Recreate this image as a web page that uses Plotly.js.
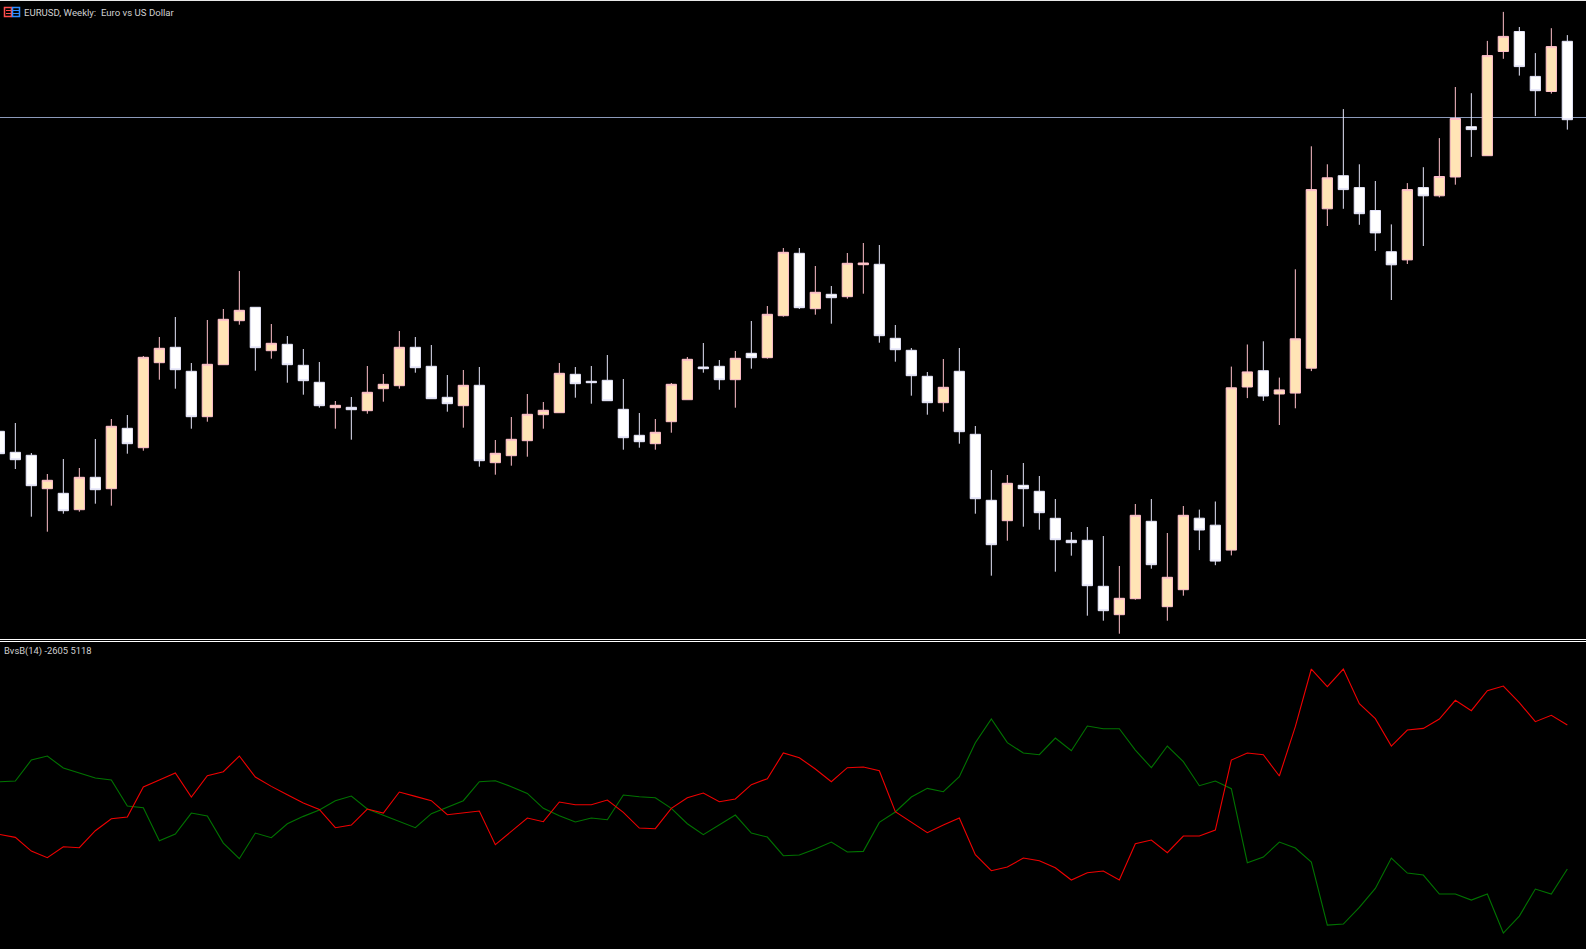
<!DOCTYPE html>
<html><head><meta charset="utf-8">
<script src="https://cdn.plot.ly/plotly-3.0.1.min.js"></script>
<style>html,body{margin:0;padding:0;background:#000;overflow:hidden}#c{width:1586px;height:949px}</style>
</head><body><div id="c"></div>
<script>
const chartTitle = "EURUSD, Weekly:\u00a0\u00a0Euro vs US Dollar";
const indicatorLabel = "BvsB(14) -2605 5118";
const levelLine = 522.5;
const direction = "DDDUDUDUDUUDDUUUDUDDDUDUUU" + "DDDUDUUUUUDDDDDUUUDDUDUU" + "DUDUUDDDDUDDDUDDDDDDUUDUU" + "DDUUDUUUUDDDDUDUUDUUDDUD";
const high = [215,217,187,166,181,172,201,221,225,284,303,323,277,320,331,369,332.7,316,304,291,278,239,243,274,266,309,
303,295,265,270,273,200,223,246,238,277,273,274,285,261,227,221,257,283,297,280,289,319,334,392,
392,374,354,387,397,395,315,292,268,281,292,214,170,165,177,164,141,108,113,104,74,136,141,107,134,
130.4,138.5,273.4,295.5,298.7,262.4,370.7,493.7,475.7,530.9,475.7,459.0,415.6,456.9,472.8,501.9,553.0,546.8,599.1,628.1,613.0,586.9,611.8,604.9];
const low = [180,171,123.3,108.3,126.3,128.3,136.3,134.3,186.3,189.3,260.3,251.3,211.3,218.3,275.3,315.3,269.3,281.3,257.3,245.3,232.3,211.3,200.3,226.3,238.3,251.3,
267.3,241.3,228.3,212.3,173.3,165.3,174.3,183.3,211.3,227.3,242.3,236.3,239.3,190.3,192.3,190.3,207.3,240.3,267.3,250.3,232.3,271.3,281.3,323.3,
331,325.3,316.3,341.3,346.3,297.3,278.3,244.3,225.3,228.3,196.3,126.3,64.3,99.3,113.3,110.3,68.3,84.3,24.3,19.3,6.3,40.3,71.3,19.3,44.3,
89.9,74.8,84.6,241.9,239.1,215.0,231.7,268.9,414.0,431.2,415.2,389.1,340.0,376.0,394.0,442.6,455.3,483.1,484.3,581.2,564.4,523.9,546.4,510.4];
const bodyTop = [208.7,187.7,184.7,159.7,146.7,162.7,162.7,213.7,211.7,282.7,291.7,292.7,268.7,275.7,320.7,329.7,332.7,296.7,295.7,274.7,257.7,234.7,232.7,247.7,255.7,292.7,
292.7,273.7,242.7,254.7,254.7,186.7,200.7,225.7,229.7,266.7,265.7,258.7,259.7,230.7,204.7,207.7,255.7,280.7,273,273.7,281.7,286.7,325.7,387.7,
386.7,347.7,345.7,376.7,377,375.7,301.7,289.7,263.7,252.7,268.7,205.7,139.7,156.7,154.7,148.7,121.7,99.7,99.7,53.7,41.7,124.7,118.7,62.7,124.7,
121.8,114.8,252.2,268.1,269.3,250.1,301.2,450.4,462.2,464.3,452.4,429.5,388.3,450.4,452.4,463.5,521.5,513.3,584.4,603.6,608.5,563.6,593.4,598.7];
const bodyBottom = [186.3,180.3,154.3,151.3,129.3,130.3,150.3,151.3,196.3,192.3,277.3,270.3,223.3,223.3,275.3,319.3,292.3,289.3,275.3,259.3,234.3,232.3,230.3,229.3,251.3,254.3,
272.3,241.3,236.3,234.3,179.3,177.3,184.3,199.3,225.3,227.3,256.3,257.3,239.3,202.3,198.3,196.3,218.3,240.3,271.3,260.3,260.3,282.3,282.3,324.3,
332.3,331.3,342.3,343.3,375.3,304.3,290.3,264.3,237.3,237.3,208.3,141.3,95.3,119.3,151.3,127.3,100.3,97.3,54.3,29.3,25.3,41.3,75.3,33.3,50.3,
110.0,78.9,89.9,253.0,244.0,246.0,246.9,271.8,431.2,450.4,426.3,407.1,375.2,380.1,444.2,444.2,463.0,510.4,484.3,588.5,573.4,549.3,548.5,520.3];
const greenLine = [2074,2110,3236,3450,2807,2539,2271,2163,770,680,-1089,-732,394,233,-1214,-2054,-678,-928,-178,216,555,1056,1306,609,287,-53,-392,359,698,1056,2074,2128,1806,1449,
645,252,-87,127,38,1360,1271,1217,645,-177,-766,-248,288,-677,-892,-1892,-1857,-1535,-1160,-1696,-1660,-105,449,1253,1717,1539,2343,4166,5434,4166,3612,3522,4416,
3736,5059,4916,4916,3772,2825,3986,3147,1860,2110,1699,-2268,-1964,-1160,-1482,-2232,-5610,-5556,-4663,-3644,-2018,-2822,-2929,-3948,-3948,-4270,-3948,-6039,-5127,-3680,-3948,-2605];
const redLine = [-749,-910,-1643,-2000,-1411,-1464,-553,91,180,1788,2163,2539,1252,2396,2610,3450,2324,1824,1377,931,591,-392,-249,609,394,1520,1288,1056,305,394,501,-1303,-589,126,
-70,985,842,842,1092,431,-409,-445,645,1217,1467,1003,1146,1914,2236,3612,3361,2754,2075,2825,2861,2665,467,-105,-659,-248,127,-1839,-2696,-2500,-2017,-2160,-2536,
-3197,-2804,-2715,-3197,-1249,-1053,-1732,-838,-838,-517,3236,3611,3522,2378,5023,8114,7167,8114,6256,5452,3986,4844,4933,5434,6435,5881,6953,7203,6310,5291,5631,5118];

const W = 1586, H = 949;
const bars = high.map((_, i) => i);
const up = [...direction].map(d => d === "U");
const open = up.map((u, i) => u ? bodyBottom[i] : bodyTop[i]);
const close = up.map((u, i) => u ? bodyTop[i] : bodyBottom[i]);
const px = v => v / W, py = v => 1 - v / H;
const rule = (y, color) => ({type:"line", xref:"paper", yref:"paper", x0:0, x1:1, y0:py(y), y1:py(y), line:{color, width:1}, layer:"above"});
const box = (x0, x1, y0, y1, color) => ({type:"rect", xref:"paper", yref:"paper", x0:px(x0), x1:px(x1), y0:py(y0), y1:py(y1), line:{color, width:1.5}, fillcolor:"rgba(0,0,0,0)"});
const dash = (x0, x1, y, color) => ({type:"line", xref:"paper", yref:"paper", x0:px(x0), x1:px(x1), y0:py(y), y1:py(y), line:{color, width:1}});

const traces = [
  {type:"candlestick", x:bars, open, high, low, close, xaxis:"x", yaxis:"y", whiskerwidth:0,
   increasing:{line:{color:"#FFC0CB", width:1}, fillcolor:"#FFE4B5"},
   decreasing:{line:{color:"#E6E6FA", width:1}, fillcolor:"#FFFFFF"},
   hoverinfo:"skip", showlegend:false},
  {type:"scatter", mode:"lines", x:bars, y:greenLine, xaxis:"x", yaxis:"y2", line:{color:"#007400", width:1.1, shape:"linear"}, hoverinfo:"skip", showlegend:false},
  {type:"scatter", mode:"lines", x:bars, y:redLine, xaxis:"x", yaxis:"y2", line:{color:"#F00000", width:1.1, shape:"linear"}, hoverinfo:"skip", showlegend:false}
];
const hidden = {showgrid:false, zeroline:false, showticklabels:false, ticks:"", showline:false, fixedrange:true};
const layout = {
  width:W, height:H, margin:{l:0, r:0, t:0, b:0}, paper_bgcolor:"#000", plot_bgcolor:"#000",
  showlegend:false, boxgap:0.36, boxgroupgap:0,
  xaxis:{...hidden, range:[(0+0.67)/16, (W+0.67)/16], rangeslider:{visible:false}, anchor:"y"},
  yaxis:{...hidden, domain:[(H-640)/H, 1], range:[0, 640], anchor:"x"},
  yaxis2:{...hidden, domain:[0, (H-642)/H], range:[(820.4-949)*53.6, (820.4-642)*53.6], anchor:"x"},
  shapes:[
    {type:"line", xref:"paper", yref:"y", x0:0, x1:1, y0:levelLine, y1:levelLine, line:{color:"#8C9ABA", width:1}, layer:"below"},
    rule(0.5, "#E8E8E8"), rule(639.5, "#FFFFFF"), rule(641.5, "#FFFFFF"),
    box(4.5, 11.5, 7.5, 16.5, "#FF4D4D"), box(12.5, 19.5, 7.5, 16.5, "#2E8BFF"),
    dash(6, 11, 10.5, "#FF4D4D"), dash(6, 11, 13.5, "#FF4D4D"), dash(13, 19, 10.5, "#2E8BFF"), dash(13, 19, 13.5, "#2E8BFF")
  ],
  annotations:[
    {xref:"paper", yref:"paper", x:px(24), y:py(12.2), xanchor:"left", yanchor:"middle", showarrow:false, text:chartTitle, font:{family:"Roboto", size:9.6, color:"#D0D0D0"}, borderpad:0, borderwidth:0},
    {xref:"paper", yref:"paper", x:px(4), y:py(651.2), xanchor:"left", yanchor:"middle", showarrow:false, text:indicatorLabel, font:{family:"Roboto", size:9.4, color:"#D0D0D0"}, borderpad:0, borderwidth:0}
  ]
};
Plotly.newPlot("c", traces, layout, {staticPlot:true, displayModeBar:false});
</script></body></html>
